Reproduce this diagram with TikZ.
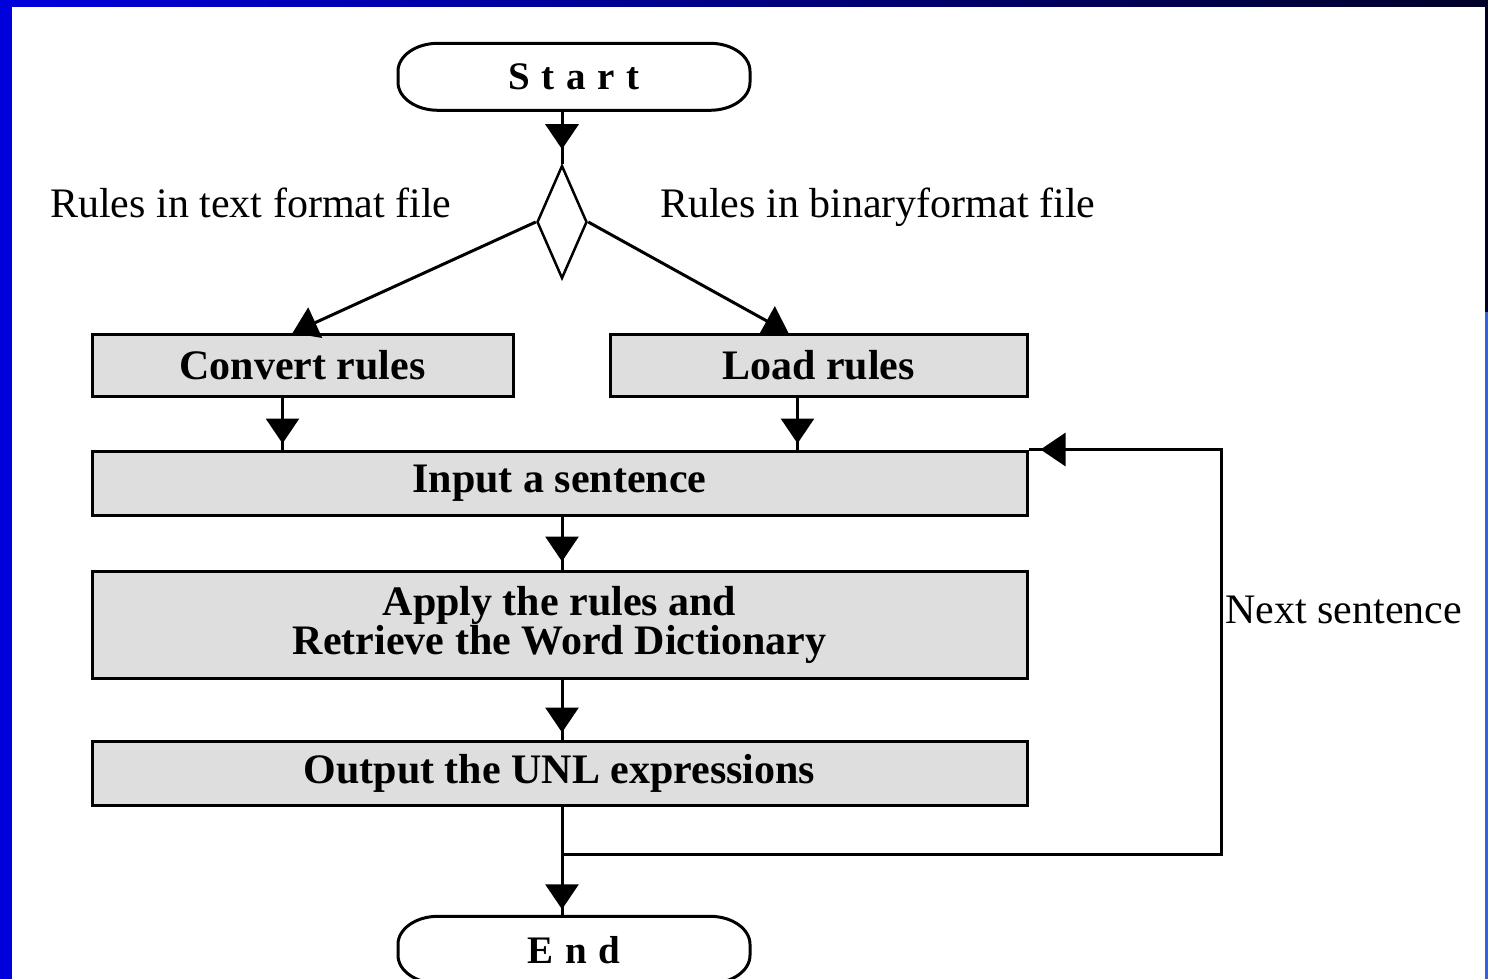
\documentclass[tikz,border=0pt]{standalone}
\usepackage{fontspec}
\setmainfont{Liberation Serif}
\usetikzlibrary{shapes.geometric,arrows.meta,decorations.markings}
\definecolor{frameblue}{RGB}{0,0,221}
\definecolor{framenavy}{RGB}{0,0,40}
\definecolor{edgeblue}{RGB}{50,96,230}
% outline of a terminal node: flat top and bottom, elliptical ends
\newcommand\termoutline[1]{%
  \draw[wire] ([xshift=-136pt]#1.north) -- ([xshift=136pt]#1.north)
    arc[start angle=90, end angle=0, x radius=40pt, y radius=28pt]
    -- ++(0pt,-11pt)
    arc[start angle=0, end angle=-90, x radius=40pt, y radius=28pt]
    -- ++(-272pt,0pt)
    arc[start angle=270, end angle=180, x radius=40pt, y radius=28pt]
    -- ++(0pt,11pt)
    arc[start angle=180, end angle=90, x radius=40pt, y radius=28pt]
    -- cycle;}
\begin{document}
\begin{tikzpicture}[x=1pt,y=-1pt,
  wire/.style={line width=3pt},
  proc/.style={draw, line width=3pt, fill=black!13, inner sep=0pt, align=center,
    font=\bfseries\fontsize{42}{39}\selectfont},
  terminal/.style={rectangle, minimum width=352pt, minimum height=67pt, inner sep=0pt,
    font=\bfseries\fontsize{39}{40}\selectfont\addfontfeature{LetterSpace=30}},
  note/.style={font=\fontsize{42}{44}\selectfont, inner sep=0pt, anchor=base west},
  arrowtip/.style={-{Triangle[width=33pt,length=25pt]}},
  tipat/.style={postaction={decorate}, decoration={markings,
    mark=at position -#1 with {\arrow{Triangle[width=33pt,length=25pt]}}}},
]
\useasboundingbox (0,0) rectangle (1488,979);
\clip (0,0) rectangle (1488,979);

% slide frame
\fill[white] (0,0) rectangle (1488,979);
\shade[left color=frameblue, right color=framenavy] (0,0) rectangle (1488,7);
\fill[frameblue] (0,0) rectangle (12,979);
\fill[framenavy] (1485,0) rectangle (1488,312);
\fill[edgeblue] (1485,312) rectangle (1488,979);

% flowchart nodes
\node[terminal] (start) at (574,77) {Start};
\termoutline{start}
\node[draw, diamond, line width=2.5pt, minimum width=50pt, minimum height=113pt,
      inner sep=0pt] (dec) at (562,222) {};
\node[proc, minimum width=421pt, minimum height=62pt] (conv) at (302.5,365.5) {Convert rules};
\node[proc, minimum width=417pt, minimum height=62pt] (load) at (818.5,365.5) {Load rules};
\node[proc, minimum width=935pt, minimum height=64pt] (input) at (559.5,483) {Input a sentence};
\node[proc, minimum width=935pt, minimum height=107pt] (apply) at (559.5,624.5)
  {Apply the rules and\\Retrieve the Word Dictionary};
\node[proc, minimum width=935pt, minimum height=64pt] (output) at (559.5,773) {Output the UNL expressions};
\node[terminal] (end) at (574,950) {End};
\termoutline{end}

% branch labels
\node[note] (ltext) at (50,217) {Rules in text format file};
\node[note] (lbin) at (660,217) {Rules in binaryformat file};
\node[note] (lnext) at (1225,623) {Next sentence};

% connectors
\draw[wire, tipat=15pt] (dec.north |- start.south) -- (dec.north);
\draw[wire, arrowtip] (dec.west) -- ([xshift=-10pt]conv.north);
\draw[wire, arrowtip] (dec.east) -- ([xshift=-30pt]load.north);
\draw[wire, tipat=6pt] ([xshift=-20pt]conv.south) -- ([xshift=-20pt]conv.south |- input.north);
\draw[wire, tipat=6pt] ([xshift=-21pt]load.south) -- ([xshift=-21pt]load.south |- input.north);
\draw[wire, tipat=8pt] (input.south -| dec) -- (apply.north -| dec);
\draw[wire, tipat=7pt] (apply.south -| dec) -- (output.north -| dec);
\draw[wire, tipat=7pt] (output.south -| dec) -- (end.north -| dec);

% loop back for the next sentence
\coordinate (join) at (562,854);
\coordinate (turn) at (1221,854);
\draw[wire, tipat=12pt] (join) -- (turn) |- (input.north east);
\end{tikzpicture}
\end{document}
